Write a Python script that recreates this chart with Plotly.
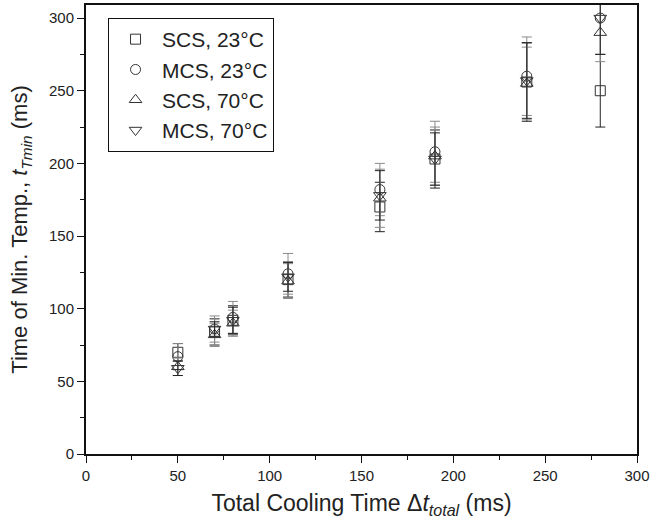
import plotly.graph_objects as go

x_vals = [50, 70, 80, 110, 160, 190, 240, 280]

scs23 = [70, 84, 92, 120, 170, 203, 256, 250]
scs23_err = [6, 9, 10, 12, 17, 20, 27, 25]

mcs23 = [67, 86, 94, 124, 182, 208, 260, 300]
mcs23_err = [9, 9, 11, 14, 18, 21, 27, 25]

scs70 = [60, 82, 90, 119, 176, 205, 255, 290]
scs70_err = [6, 8, 9, 12, 20, 20, 25, 20]

mcs70 = [59, 86, 92, 122, 178, 203, 257, 300]
mcs70_err = [5, 5, 9, 10, 17, 18, 26, 25]

series = [
    ("SCS, 23°C", scs23, scs23_err, "square-open", 10, "#222222"),
    ("MCS, 23°C", mcs23, mcs23_err, "circle-open", 10, "#8a8a8a"),
    ("SCS, 70°C", scs70, scs70_err, "triangle-up-open", 11, "#8a8a8a"),
    ("MCS, 70°C", mcs70, mcs70_err, "triangle-down-open", 11, "#222222"),
]

FONT = "Liberation Sans, Arial, Helvetica, sans-serif"

fig = go.Figure()
for name, vals, errs, sym, size, ecol in series:
    fig.add_trace(go.Scatter(
        x=x_vals, y=vals, mode="markers", name=name,
        marker=dict(symbol=sym, size=size, color="#333333",
                    line=dict(width=1, color="#333333")),
        error_y=dict(type="data", array=errs, visible=True,
                     color=ecol, thickness=1, width=5),
        cliponaxis=True,
    ))

axis_common = dict(
    showline=True, linecolor="#111111", linewidth=2, mirror=True,
    ticks="outside", ticklen=7, tickwidth=1, tickcolor="#111111",
    showgrid=False, zeroline=False, automargin=False,
    tickfont=dict(family=FONT, size=15, color="#222222"),
)

fig.update_xaxes(
    range=[0, 300], tickmode="linear", tick0=0, dtick=50,
    minor=dict(dtick=25, ticks="outside", ticklen=4, tickcolor="#111111"),
    title=dict(text="Total Cooling Time Δ<i>t</i><sub><i>total</i></sub> (ms)",
               font=dict(family=FONT, size=23, color="#222222"), standoff=12),
    **axis_common,
)
fig.update_yaxes(
    range=[0, 309], tickmode="linear", tick0=0, dtick=50,
    minor=dict(dtick=25, ticks="outside", ticklen=4, tickcolor="#111111"),
    title=dict(text="Time of Min. Temp., <i>t</i><sub><i>Tmin</i></sub> (ms)",
               font=dict(family=FONT, size=22, color="#222222"), standoff=15),
    **axis_common,
)

fig.update_layout(
    width=650, height=527,
    margin=dict(l=86, r=13, t=5, b=73),
    paper_bgcolor="white", plot_bgcolor="white",
    font=dict(family=FONT, color="#222222"),
    showlegend=True,
    legend=dict(
        x=0.04, y=0.971, xanchor="left", yanchor="top",
        bordercolor="#111111", borderwidth=1, bgcolor="white",
        font=dict(family=FONT, size=21, color="#222222"),
        itemsizing="trace", itemwidth=43,
        tracegroupgap=0,
    ),
)

fig.write_html(
    "out.html",
    config={"displayModeBar": False},
    post_script="document.body.style.margin='0';document.body.style.padding='0';",
)
